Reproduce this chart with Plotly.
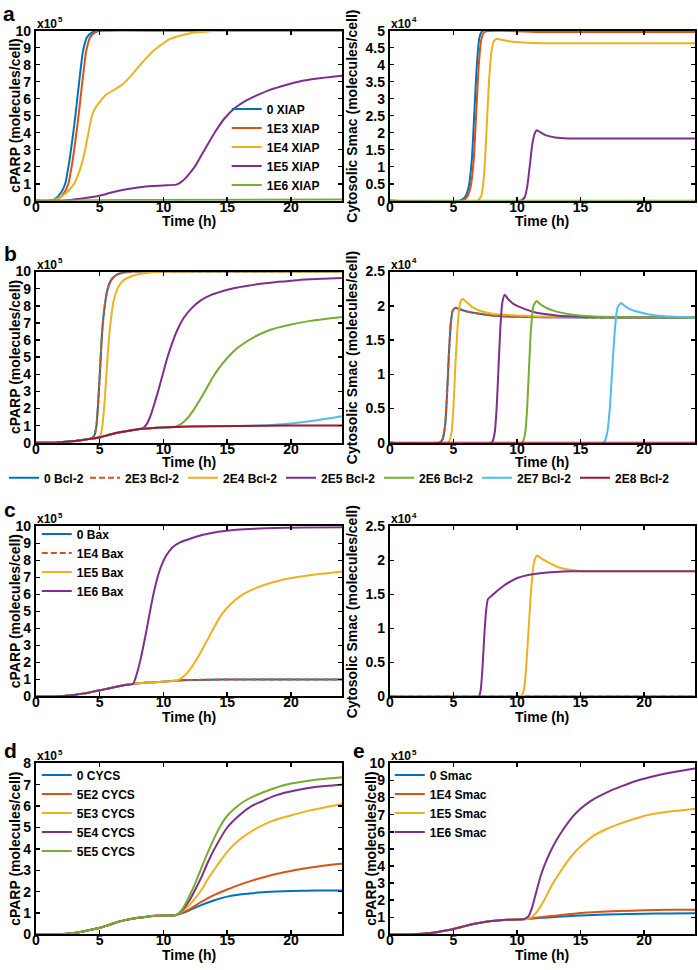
import plotly.graph_objects as go

W, H = 698, 970
FONT = "Liberation Sans, Arial, Helvetica, sans-serif"

C_BLUE = "#0072BD"
C_RED = "#D95319"
C_YEL = "#EDB120"
C_PUR = "#7E2F8E"
C_GRN = "#77AC30"
C_LBL = "#4DBEEE"
C_DRD = "#A2142F"

# ---------------- tick labels ----------------
time_ticks = [0, 5, 10, 15, 20]
parp10_ticks = [0, 1, 2, 3, 4, 5, 6, 7, 8, 9, 10]
parp8_ticks = [0, 1, 2, 3, 4, 5, 6, 7, 8]
smac5_ticks = [0, 0.5, 1, 1.5, 2, 2.5, 3, 3.5, 4, 4.5, 5]
smac5_text = ["0", "0.5", "1", "1.5", "2", "2.5", "3", "3.5", "4", "4.5", "5"]
smac25_ticks = [0, 0.5, 1, 1.5, 2, 2.5]
smac25_text = ["0", "0.5", "1", "1.5", "2", "2.5"]

# ---------------- panel a : XIAP ----------------
a_names = ["0 XIAP", "1E3 XIAP", "1E4 XIAP", "1E5 XIAP", "1E6 XIAP"]
a_t_parp_0 = [0, 1.0, 1.5, 2.0, 2.3, 2.6, 2.9, 3.1, 3.4, 3.7, 4.0, 4.4, 4.9, 12, 24]
a_parp_0 = [0, 0, 0.1, 0.5, 1.0, 2.2, 3.8, 5.0, 7.0, 8.8, 9.6, 9.9, 10, 10, 10]
a_t_parp_1e3 = [0, 1.2, 1.75, 2.25, 2.55, 2.85, 3.15, 3.35, 3.65, 3.95, 4.25, 4.65, 5.2, 12, 24]
a_parp_1e3 = [0, 0, 0.1, 0.5, 1.0, 2.2, 3.8, 5.0, 7.0, 8.8, 9.6, 9.9, 10, 10, 10]
a_t_parp_1e4 = [0, 1.0, 1.4, 1.8, 2.2, 2.6, 3.0, 3.4, 3.77, 4.1, 4.4, 4.7, 5.06, 5.45,
                6.1, 6.8, 7.4, 8.2, 9.2, 10.5, 12.1, 13.5, 15.5, 20, 24]
a_parp_1e4 = [0, 0, 0.05, 0.15, 0.35, 0.62, 1.0, 1.7, 2.66, 3.9, 5.0, 5.5, 5.85, 6.2,
              6.5, 6.85, 7.3, 8.0, 8.8, 9.5, 9.85, 9.95, 10, 10, 10]
a_t_parp_1e5 = [0, 2, 2.7, 3.5, 4.3, 5.06, 6, 7.1, 8, 9.1, 10, 11.0, 11.3, 11.7, 12.1,
                12.5, 13.0, 13.5, 14.1, 14.8, 15.6, 16.5, 17.4, 18.3, 19.6, 20.9, 22.4, 24]
a_parp_1e5 = [0, 0, 0.05, 0.12, 0.21, 0.31, 0.5, 0.68, 0.78, 0.87, 0.9, 0.95, 1.05, 1.3,
              1.65, 2.05, 2.7, 3.35, 4.1, 4.85, 5.45, 5.9, 6.22, 6.5, 6.8, 7.05, 7.22, 7.35]
a_t_parp_1e6 = [0, 5, 10, 24]
a_parp_1e6 = [0, 0.03, 0.05, 0.07]

a_t_smac_0 = [0, 5.5, 5.9, 6.2, 6.45, 6.65, 6.85, 7.05, 7.3, 12, 24]
a_smac_0 = [0, 0, 0.1, 0.4, 1.2, 2.6, 4.0, 4.8, 5.0, 5.0, 5.0]
a_t_smac_1e3 = [0, 5.65, 6.05, 6.35, 6.6, 6.8, 7.0, 7.2, 7.45, 12, 24]
a_smac_1e3 = [0, 0, 0.1, 0.4, 1.2, 2.6, 4.0, 4.75, 4.96, 4.96, 4.96]
a_t_smac_1e4 = [0, 6.9, 7.2, 7.4, 7.6, 7.8, 8.0, 8.2, 8.45, 8.8, 9.5, 10.5, 12, 18, 24]
a_smac_1e4 = [0, 0, 0.15, 0.7, 2.0, 3.5, 4.4, 4.7, 4.76, 4.73, 4.68, 4.65, 4.63, 4.63, 4.63]
a_t_smac_1e5 = [0, 10.3, 10.6, 10.8, 11.0, 11.2, 11.4, 11.56, 11.9, 12.3, 13, 14, 19, 24]
a_smac_1e5 = [0, 0, 0.1, 0.4, 1.0, 1.65, 1.98, 2.07, 2.0, 1.92, 1.86, 1.83, 1.83, 1.83]
a_t_smac_1e6 = [0, 24]
a_smac_1e6 = [0, 0]

# ---------------- panel b : Bcl-2 ----------------
b_names = ["0 Bcl-2", "2E3 Bcl-2", "2E4 Bcl-2", "2E5 Bcl-2", "2E6 Bcl-2", "2E7 Bcl-2", "2E8 Bcl-2"]
b_t_parp_0 = [0, 1.5, 2.1, 2.8, 3.4, 4.0, 4.4, 4.6, 4.75, 4.9, 5.05, 5.2, 5.4, 5.6, 5.9,
              6.3, 6.8, 7.6, 12, 24]
b_parp_0 = [0, 0, 0.04, 0.08, 0.13, 0.2, 0.26, 0.45, 1.0, 2.5, 4.5, 6.5, 8.0, 8.9, 9.5,
            9.8, 9.93, 10, 10, 10]
b_t_parp_2e3 = b_t_parp_0
b_parp_2e3 = b_parp_0
b_t_parp_2e4 = [0, 1.5, 2.1, 2.8, 3.4, 4.2, 4.9, 5.1, 5.25, 5.4, 5.55, 5.7, 5.9, 6.1, 6.4,
                6.8, 7.4, 8.5, 10, 24]
b_parp_2e4 = [0, 0, 0.04, 0.08, 0.13, 0.22, 0.31, 0.5, 1.2, 2.5, 4.2, 5.8, 7.3, 8.3, 9.0,
              9.45, 9.7, 9.9, 10, 10]
b_t_parp_2e5 = [0, 1.5, 2.1, 2.8, 3.4, 4.2, 5.07, 5.7, 6.3, 7.3, 8.0, 8.4, 8.7, 9.0, 9.3,
                9.6, 9.95, 10.3, 10.7, 11.1, 11.6, 12.2, 12.9, 13.7, 14.6, 15.5, 16.6,
                17.8, 19, 20.5, 22, 24]
b_parp_2e5 = [0, 0, 0.04, 0.08, 0.13, 0.22, 0.32, 0.45, 0.57, 0.7, 0.78, 0.85, 1.1, 1.6, 2.3,
              3.05, 4.0, 4.95, 5.85, 6.6, 7.3, 7.85, 8.3, 8.62, 8.85, 9.02, 9.17,
              9.3, 9.4, 9.5, 9.56, 9.62]
b_t_parp_2e6 = [0, 1.5, 2.1, 2.8, 3.4, 4.2, 5.07, 5.7, 6.3, 7.3, 8.35, 9.9, 10.9, 11.4,
                11.9, 12.4, 12.9, 13.4, 13.9, 14.4, 15.0, 15.75, 16.5, 17.3, 18.4, 19.66,
                21.5, 24]
b_parp_2e6 = [0, 0, 0.04, 0.08, 0.13, 0.22, 0.32, 0.45, 0.57, 0.7, 0.81, 0.89, 0.92, 1.1,
              1.45, 1.95, 2.55, 3.2, 3.85, 4.4, 4.95, 5.5, 5.9, 6.25, 6.6, 6.85,
              7.12, 7.35]
b_t_parp_2e7 = [0, 1.5, 2.1, 2.8, 3.4, 4.2, 5.07, 5.7, 6.3, 7.3, 8.35, 9.9, 12, 15.7, 17.3,
                18.5, 19.5, 20.5, 21.5, 22.5, 23.3, 24]
b_parp_2e7 = [0, 0, 0.04, 0.08, 0.13, 0.22, 0.32, 0.45, 0.57, 0.7, 0.81, 0.89, 0.94, 0.98,
              0.99, 1.03, 1.09, 1.17, 1.26, 1.37, 1.46, 1.55]
b_t_parp_2e8 = [0, 1.5, 2.1, 2.8, 3.4, 4.2, 5.07, 5.7, 6.3, 7.3, 8.35, 9.9, 12, 15.7, 20, 24]
b_parp_2e8 = [0, 0, 0.04, 0.08, 0.13, 0.22, 0.32, 0.45, 0.57, 0.7, 0.81, 0.89, 0.94, 0.98,
              1.0, 1.0]

b_t_smac_0 = [0, 3.9, 4.15, 4.35, 4.5, 4.65, 4.8, 4.95, 5.15, 5.5, 6.0, 6.8, 8, 10, 16, 24]
b_smac_0 = [0, 0, 0.05, 0.25, 0.7, 1.3, 1.75, 1.93, 1.97, 1.95, 1.92, 1.89, 1.86, 1.84, 1.83, 1.83]
b_t_smac_2e3 = b_t_smac_0
b_smac_2e3 = b_smac_0
b_t_smac_2e4 = [0, 4.6, 4.85, 5.0, 5.15, 5.3, 5.45, 5.6, 5.75, 6.0, 6.5, 7.2, 8.2, 10, 12, 24]
b_smac_2e4 = [0, 0, 0.15, 0.5, 1.1, 1.6, 1.95, 2.08, 2.1, 2.06, 1.98, 1.92, 1.88, 1.86, 1.845, 1.83]
b_t_smac_2e5 = [0, 8.0, 8.25, 8.4, 8.55, 8.7, 8.85, 9.04, 9.3, 9.7, 10.26, 11.3, 13.1, 15, 24]
b_smac_2e5 = [0, 0, 0.15, 0.5, 1.1, 1.7, 2.05, 2.16, 2.1, 2.03, 1.98, 1.91, 1.86, 1.84, 1.83]
b_t_smac_2e6 = [0, 10.4, 10.65, 10.8, 10.95, 11.1, 11.3, 11.56, 11.8, 12.2, 12.86, 14.4, 16, 24]
b_smac_2e6 = [0, 0, 0.15, 0.5, 1.1, 1.65, 2.0, 2.07, 2.03, 1.98, 1.93, 1.87, 1.845, 1.83]
b_t_smac_2e7 = [0, 16.8, 17.1, 17.3, 17.5, 17.7, 17.9, 18.18, 18.45, 18.8, 19.35, 20.9, 22.5, 24]
b_smac_2e7 = [0, 0, 0.15, 0.5, 1.1, 1.65, 1.97, 2.04, 2.0, 1.96, 1.92, 1.86, 1.84, 1.83]
b_t_smac_2e8 = [0, 24]
b_smac_2e8 = [0, 0]

# ---------------- panel c : Bax ----------------
c_names = ["0 Bax", "1E4 Bax", "1E5 Bax", "1E6 Bax"]
c_t_parp_0 = [0, 1.5, 2.2, 3, 3.8, 4.4, 5.03, 5.7, 6.4, 7.0, 7.63, 8.5, 9.3, 10, 11, 12,
              13.5, 16, 24]
c_parp_0 = [0, 0, 0.03, 0.09, 0.18, 0.27, 0.36, 0.47, 0.58, 0.67, 0.75, 0.8, 0.84, 0.87,
            0.93, 0.96, 0.98, 1.0, 1.0]
c_t_parp_1e4 = c_t_parp_0
c_parp_1e4 = c_parp_0
c_t_parp_1e5 = [0, 1.5, 2.2, 3, 3.8, 4.4, 5.03, 5.7, 6.4, 7.0, 7.63, 8.5, 9.3, 10, 10.6,
                11.1, 11.5, 12.0, 12.5, 13.0, 13.5, 14.0, 14.6, 15.3, 16.2, 17.1, 18,
                19.2, 20.6, 22.2, 24]
c_parp_1e5 = [0, 0, 0.03, 0.09, 0.18, 0.27, 0.36, 0.47, 0.58, 0.67, 0.75, 0.8, 0.84, 0.87,
              0.9, 0.95, 1.12, 1.5, 2.05, 2.7, 3.4, 4.1, 4.85, 5.45, 5.98, 6.32, 6.58,
              6.83, 7.03, 7.2, 7.35]
c_t_parp_1e6 = [0, 1.5, 2.2, 3, 3.8, 4.4, 5.03, 5.7, 6.4, 7.0, 7.63, 7.8, 8.0, 8.2, 8.4,
                8.6, 8.8, 9.0, 9.2, 9.4, 9.6, 9.85, 10.2, 10.7, 11.3, 12.2, 13.1, 14.3,
                15.7, 18, 21, 24]
c_parp_1e6 = [0, 0, 0.03, 0.09, 0.18, 0.27, 0.36, 0.47, 0.58, 0.67, 0.75, 1.05, 1.55, 2.15,
              2.85, 3.6, 4.4, 5.2, 5.95, 6.6, 7.15, 7.7, 8.25, 8.75, 9.05, 9.3, 9.5, 9.68,
              9.8, 9.88, 9.93, 9.95]

c_t_smac_0 = [0, 24]
c_smac_0 = [0, 0]
c_t_smac_1e4 = [0, 24]
c_smac_1e4 = [0, 0]
c_t_smac_1e5 = [0, 10.3, 10.55, 10.75, 10.95, 11.15, 11.35, 11.59, 11.9, 12.37, 13.4,
                14.96, 19, 24]
c_smac_1e5 = [0, 0, 0.1, 0.5, 1.1, 1.65, 1.98, 2.07, 2.03, 1.98, 1.89, 1.845, 1.84, 1.84]
c_t_smac_1e6 = [0, 7.0, 7.15, 7.3, 7.45, 7.6, 7.72, 8.08, 8.5, 8.98, 9.5, 10.03, 10.8,
                11.84, 13, 14.4, 19, 24]
c_smac_1e6 = [0, 0, 0.1, 0.45, 0.95, 1.3, 1.43, 1.49, 1.56, 1.63, 1.69, 1.74, 1.78, 1.81,
              1.83, 1.84, 1.84, 1.84]

# ---------------- panel d : CYCS ----------------
d_names = ["0 CYCS", "5E2 CYCS", "5E3 CYCS", "5E4 CYCS", "5E5 CYCS"]
d_t_0 = [0, 1.5, 2.2, 3.0, 3.8, 4.4, 5.03, 5.7, 6.4, 7.0, 7.9, 8.7, 9.45, 10.3, 11.0,
         11.5, 12, 13, 14, 15, 16, 17, 18, 20, 22, 24]
d_parp_0 = [0, 0, 0.02, 0.07, 0.15, 0.23, 0.31, 0.44, 0.58, 0.67, 0.77, 0.83, 0.87, 0.89,
            0.91, 1.0, 1.12, 1.38, 1.6, 1.77, 1.87, 1.93, 1.98, 2.03, 2.05, 2.06]
d_t_5e2 = [0, 1.5, 2.2, 3.0, 3.8, 4.4, 5.03, 5.7, 6.4, 7.0, 7.9, 8.7, 9.45, 10.3, 11.0,
           11.5, 12, 13, 14, 15, 16, 17, 18, 19, 20, 21, 22, 23, 24]
d_parp_5e2 = [0, 0, 0.02, 0.07, 0.15, 0.23, 0.31, 0.44, 0.58, 0.67, 0.77, 0.83, 0.87, 0.89,
              0.91, 1.02, 1.16, 1.54, 1.85, 2.1, 2.33, 2.53, 2.7, 2.85, 2.97, 3.08, 3.17,
              3.25, 3.3]
d_t_5e3 = [0, 1.5, 2.2, 3.0, 3.8, 4.4, 5.03, 5.7, 6.4, 7.0, 7.9, 8.7, 9.45, 10.3, 11.0,
           11.5, 12.0, 12.5, 13.0, 13.5, 14.0, 14.6, 15.2, 16.0, 17.4, 18.5, 19.9, 21.5, 24]
d_parp_5e3 = [0, 0, 0.02, 0.07, 0.15, 0.23, 0.31, 0.44, 0.58, 0.67, 0.77, 0.83, 0.87, 0.89,
              0.91, 1.1, 1.35, 1.7, 2.1, 2.6, 3.05, 3.55, 4.0, 4.45, 5.0, 5.3, 5.55, 5.8, 6.1]
d_t_5e4 = [0, 1.5, 2.2, 3.0, 3.8, 4.4, 5.03, 5.7, 6.4, 7.0, 7.9, 8.7, 9.45, 10.3, 11.0,
           11.5, 12.0, 12.5, 13.0, 13.5, 14.0, 15.0, 16.0, 16.9, 18.0, 18.8, 20.5, 22, 24]
d_parp_5e4 = [0, 0, 0.02, 0.07, 0.15, 0.23, 0.31, 0.44, 0.58, 0.67, 0.77, 0.83, 0.87, 0.89,
              0.91, 1.15, 1.55, 2.1, 2.7, 3.4, 4.0, 5.0, 5.6, 6.0, 6.3, 6.5, 6.75, 6.9, 7.0]
d_t_5e5 = [0, 1.5, 2.2, 3.0, 3.8, 4.4, 5.03, 5.7, 6.4, 7.0, 7.9, 8.7, 9.45, 10.3, 11.0,
           11.5, 12.0, 12.5, 12.9, 13.6, 14.4, 15.0, 15.7, 16.4, 17.3, 18.4, 19.6, 21.8, 24]
d_parp_5e5 = [0, 0, 0.02, 0.07, 0.15, 0.23, 0.31, 0.44, 0.58, 0.67, 0.77, 0.83, 0.87, 0.89,
              0.91, 1.2, 1.75, 2.4, 3.0, 4.0, 5.0, 5.55, 5.95, 6.25, 6.52, 6.78, 7.0,
              7.22, 7.35]

# ---------------- panel e : Smac ----------------
e_names = ["0 Smac", "1E4 Smac", "1E5 Smac", "1E6 Smac"]
e_t_0 = [0, 1.5, 2.2, 3.0, 3.8, 4.4, 5.0, 5.7, 6.4, 7.0, 7.7, 8.5, 9.3, 10.0, 10.5, 11, 12,
         13, 14, 15, 16, 18, 20, 22, 24]
e_parp_0 = [0, 0, 0.02, 0.07, 0.15, 0.23, 0.32, 0.45, 0.58, 0.67, 0.76, 0.82, 0.86, 0.88,
            0.89, 0.92, 0.97, 1.02, 1.07, 1.11, 1.14, 1.18, 1.21, 1.23, 1.24]
e_t_1e4 = [0, 1.5, 2.2, 3.0, 3.8, 4.4, 5.0, 5.7, 6.4, 7.0, 7.7, 8.5, 9.3, 10.0, 10.5, 11,
           12, 13, 14, 15, 16, 18, 20, 22, 24]
e_parp_1e4 = [0, 0, 0.02, 0.07, 0.15, 0.23, 0.32, 0.45, 0.58, 0.67, 0.76, 0.82, 0.86, 0.88,
              0.89, 0.94, 1.02, 1.1, 1.18, 1.25, 1.3, 1.37, 1.41, 1.44, 1.45]
e_t_1e5 = [0, 1.5, 2.2, 3.0, 3.8, 4.4, 5.0, 5.7, 6.4, 7.0, 7.7, 8.5, 9.3, 10.0, 10.5, 10.9,
           11.3, 11.7, 12.1, 12.8, 13.4, 14.0, 14.6, 15.3, 16.1, 17.0, 18.0, 19.2, 20.4,
           22.2, 24]
e_parp_1e5 = [0, 0, 0.02, 0.07, 0.15, 0.23, 0.32, 0.45, 0.58, 0.67, 0.76, 0.82, 0.86, 0.88,
              0.89, 0.92, 1.1, 1.45, 1.95, 2.95, 3.65, 4.3, 4.85, 5.35, 5.8, 6.15, 6.45,
              6.75, 7.0, 7.2, 7.35]
e_t_1e6 = [0, 1.5, 2.2, 3.0, 3.8, 4.4, 5.0, 5.7, 6.4, 7.0, 7.7, 8.5, 9.3, 10.0, 10.5, 10.9,
           11.2, 11.56, 11.9, 12.3, 12.8, 13.4, 14.4, 15.0, 15.7, 16.4, 17.2, 18.2, 19.3,
           20.5, 22.0, 24]
e_parp_1e6 = [0, 0, 0.02, 0.07, 0.15, 0.23, 0.32, 0.45, 0.58, 0.67, 0.76, 0.82, 0.86, 0.88,
              0.89, 1.06, 1.6, 2.6, 3.5, 4.3, 5.1, 5.87, 6.9, 7.35, 7.75, 8.05, 8.35, 8.65,
              8.95, 9.2, 9.45, 9.7]


def P(px):
    return px / W


def Q(py):
    return 1 - py / H


fig = go.Figure()

DASH = "6px,3px"


def add(ax, t, y, color, name, legend, show, dash="solid", lw=None):
    xa = "x" if ax == 1 else f"x{ax}"
    ya = "y" if ax == 1 else f"y{ax}"
    extra = {} if lw is None else {"legendwidth": lw}
    fig.add_trace(go.Scatter(
        x=t, y=y, mode="lines", name=name, xaxis=xa, yaxis=ya,
        line=dict(color=color, width=2, dash=dash, shape="spline", smoothing=0.6),
        legend=legend, showlegend=show, hoverinfo="skip", **extra))


# a
a_cols = [C_BLUE, C_RED, C_YEL, C_PUR, C_GRN]
a_parp = [(a_t_parp_0, a_parp_0), (a_t_parp_1e3, a_parp_1e3), (a_t_parp_1e4, a_parp_1e4),
          (a_t_parp_1e5, a_parp_1e5), (a_t_parp_1e6, a_parp_1e6)]
a_smac = [(a_t_smac_0, a_smac_0), (a_t_smac_1e3, a_smac_1e3), (a_t_smac_1e4, a_smac_1e4),
          (a_t_smac_1e5, a_smac_1e5), (a_t_smac_1e6, a_smac_1e6)]
for (t, y), c, n in zip(a_parp, a_cols, a_names):
    add(1, t, y, c, n, "legend", True)
for (t, y), c, n in zip(a_smac, a_cols, a_names):
    add(2, t, y, c, n, "legend", False)

# b
b_cols = [C_BLUE, C_RED, C_YEL, C_PUR, C_GRN, C_LBL, C_DRD]
b_dash = ["solid", DASH, "solid", "solid", "solid", "solid", "solid"]
b_legw = [36, 53, 53, 53, 53, 53, 53]
b_parp = [(b_t_parp_0, b_parp_0), (b_t_parp_2e3, b_parp_2e3), (b_t_parp_2e4, b_parp_2e4),
          (b_t_parp_2e5, b_parp_2e5), (b_t_parp_2e6, b_parp_2e6), (b_t_parp_2e7, b_parp_2e7),
          (b_t_parp_2e8, b_parp_2e8)]
b_smac = [(b_t_smac_0, b_smac_0), (b_t_smac_2e3, b_smac_2e3), (b_t_smac_2e4, b_smac_2e4),
          (b_t_smac_2e5, b_smac_2e5), (b_t_smac_2e6, b_smac_2e6), (b_t_smac_2e7, b_smac_2e7),
          (b_t_smac_2e8, b_smac_2e8)]
for i in range(7):
    t, y = b_parp[i]
    add(3, t, y, b_cols[i], b_names[i], "legend2", True, b_dash[i], b_legw[i])
for i in range(7):
    t, y = b_smac[i]
    add(4, t, y, b_cols[i], b_names[i], "legend2", False, b_dash[i])

# c
c_cols = [C_BLUE, C_RED, C_YEL, C_PUR]
c_dash = ["solid", DASH, "solid", "solid"]
c_parp = [(c_t_parp_0, c_parp_0), (c_t_parp_1e4, c_parp_1e4), (c_t_parp_1e5, c_parp_1e5),
          (c_t_parp_1e6, c_parp_1e6)]
c_smac = [(c_t_smac_0, c_smac_0), (c_t_smac_1e4, c_smac_1e4), (c_t_smac_1e5, c_smac_1e5),
          (c_t_smac_1e6, c_smac_1e6)]
for i in range(4):
    t, y = c_parp[i]
    add(5, t, y, c_cols[i], c_names[i], "legend3", True, c_dash[i])
for i in range(4):
    t, y = c_smac[i]
    add(6, t, y, c_cols[i], c_names[i], "legend3", False, c_dash[i])

# d
d_cols = [C_BLUE, C_RED, C_YEL, C_PUR, C_GRN]
d_data = [(d_t_0, d_parp_0), (d_t_5e2, d_parp_5e2), (d_t_5e3, d_parp_5e3),
          (d_t_5e4, d_parp_5e4), (d_t_5e5, d_parp_5e5)]
for (t, y), c, n in zip(d_data, d_cols, d_names):
    add(7, t, y, c, n, "legend4", True)

# e
e_cols = [C_BLUE, C_RED, C_YEL, C_PUR]
e_data = [(e_t_0, e_parp_0), (e_t_1e4, e_parp_1e4), (e_t_1e5, e_parp_1e5),
          (e_t_1e6, e_parp_1e6)]
for (t, y), c, n in zip(e_data, e_cols, e_names):
    add(8, t, y, c, n, "legend5", True)

# ---------------- axes ----------------
panels = {
    1: (32, 340, 23, 196),
    2: (388, 695, 23, 196),
    3: (32, 340, 268, 442),
    4: (388, 695, 268, 442),
    5: (32, 340, 527, 700),
    6: (388, 695, 527, 700),
    7: (32, 340, 768, 942),
    8: (388, 695, 768, 942),
}
yspec = {
    1: (10, parp10_ticks, [str(v) for v in parp10_ticks]),
    2: (5, smac5_ticks, smac5_text),
    3: (10, parp10_ticks, [str(v) for v in parp10_ticks]),
    4: (2.5, smac25_ticks, smac25_text),
    5: (10, parp10_ticks, [str(v) for v in parp10_ticks]),
    6: (2.5, smac25_ticks, smac25_text),
    7: (8, parp8_ticks, [str(v) for v in parp8_ticks]),
    8: (10, parp10_ticks, [str(v) for v in parp10_ticks]),
}
tickfont = dict(family=FONT, size=14, color="black", weight="bold")
layout_axes = {}
for k, (x0, x1, y0, y1) in panels.items():
    sx = "" if k == 1 else str(k)
    ymax, yt, ytt = yspec[k]
    common = dict(showline=True, linecolor="black", linewidth=2, mirror="ticks",
                  ticks="inside", ticklen=4, tickwidth=1.5, tickcolor="black",
                  showgrid=False, zeroline=False, tickfont=tickfont, fixedrange=True)
    layout_axes["xaxis" + sx] = dict(domain=[P(x0), P(x1)], range=[0, 24],
                                     tickmode="array", tickvals=time_ticks,
                                     ticktext=[str(v) for v in time_ticks],
                                     ticklabelstandoff=-8,
                                     anchor="y" + sx, **common)
    layout_axes["yaxis" + sx] = dict(domain=[Q(y1), Q(y0)], range=[0, ymax],
                                     tickmode="array", tickvals=yt, ticktext=ytt,
                                     anchor="x" + sx, **common)

fig.update_layout(**layout_axes)

# ---------------- annotations ----------------
ann = []
bold = dict(family=FONT, color="black", weight="bold")


def text(x, y, s, size, angle=0, xanchor="center", yanchor="middle"):
    ann.append(dict(x=P(x), y=Q(y), xref="paper", yref="paper", text=s, showarrow=False,
                    textangle=angle, xanchor=xanchor, yanchor=yanchor,
                    font=dict(size=size, **bold)))


for k, (x0, x1, y0, y1) in panels.items():
    text((x0 + x1) / 2, y1 + (20 if k in (3, 4) else 21), "Time (h)", 14)
    power = "4" if k in (2, 4, 6) else "5"
    text(x0 - 1, y0 - 7, "x10", 12, xanchor="left")
    text(x0 + 20, y0 - 11, power, 8, xanchor="left")
    mid = (y0 + y1) / 2
    if k in (2, 4, 6):
        text(350, mid, "Cytosolic Smac (molecules/cell)", 14, angle=-90)
    elif k == 8:
        text(369, mid, "cPARP (molecules/cell)", 14, angle=-90)
    else:
        text(11, mid, "cPARP (molecules/cell)", 14, angle=-90)

for lab, x, y in [("a", 5, 6), ("b", 7, 250), ("c", 6, 510), ("d", 7, 755), ("e", 357, 755)]:
    text(x, y, lab, 21)

leg_font = dict(family=FONT, size=12, color="black", weight="bold")
leg_common = dict(font=leg_font, bgcolor="rgba(0,0,0,0)", borderwidth=0, itemwidth=30,
                  tracegroupgap=0, xanchor="left", yanchor="top", itemclick=False,
                  itemdoubleclick=False)

fig.update_layout(
    width=W, height=H, margin=dict(l=0, r=0, t=0, b=0),
    paper_bgcolor="white", plot_bgcolor="white",
    annotations=ann,
    legend=dict(x=P(224), y=Q(88), **leg_common),
    legend2=dict(x=0, y=Q(463), orientation="h", **leg_common),
    legend3=dict(x=P(33), y=Q(520), **leg_common),
    legend4=dict(x=P(33), y=Q(765), **leg_common),
    legend5=dict(x=P(388), y=Q(765), **leg_common),
    showlegend=True,
)

fig.write_html("out.html",
               config={"displayModeBar": False, "staticPlot": True},
               post_script="document.body.style.margin='0';"
                           "document.documentElement.style.overflow='hidden';")
